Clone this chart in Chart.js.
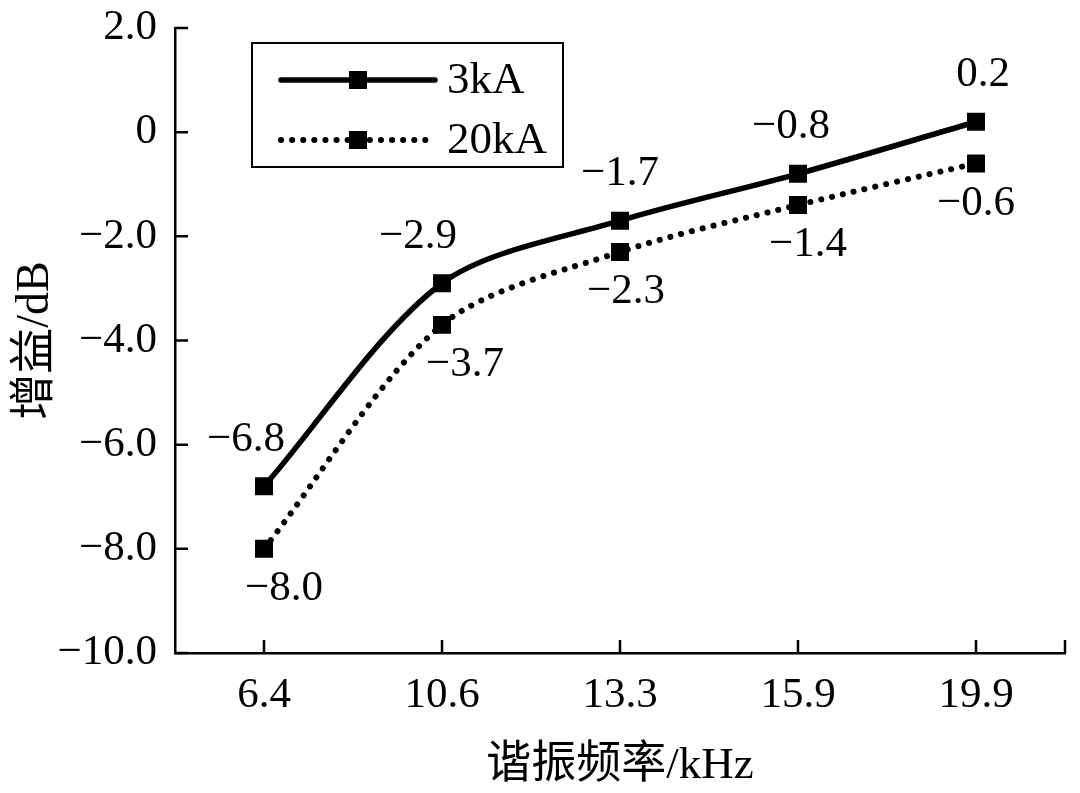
<!DOCTYPE html>
<html>
<head>
<meta charset="utf-8">
<script src="https://cdn.jsdelivr.net/npm/chart.js@4.4.1/dist/chart.umd.min.js"></script>
<style>
  html, body { margin: 0; padding: 0; background: #fff; }
  #wrap { width: 1080px; height: 793px; position: relative; }
</style>
</head>
<body>
<div id="wrap"><canvas id="chart"></canvas></div>
<script>
/* gain vs resonant frequency – two lightning current levels */
const FREQ_LABELS = ['6.4', '10.6', '13.3', '15.9', '19.9'];
const GAIN_3KA    = [-6.8, -2.9, -1.7, -0.8, 0.2];
const GAIN_20KA   = [-8.0, -3.7, -2.3, -1.4, -0.6];
const SERIES_NAMES = ['3kA', '20kA'];
const Y_MIN = -10, Y_MAX = 2, Y_STEP = 2;

const FONT = "'Liberation Serif', 'Times New Roman', 'Noto Sans CJK SC', serif";
const INK = '#000';

function fmt(v) {
  if (v === 0) return '0';
  return (v < 0 ? '\u2212' : '') + Math.abs(v).toFixed(1);
}

/* ── inward tick marks ─────────────────────────────────────────────── */
const innerTicks = {
  id: 'innerTicks',
  afterDraw(chart) {
    const { ctx, chartArea: a, scales: { x, y } } = chart;
    ctx.save();
    ctx.strokeStyle = INK;
    ctx.lineWidth = 2.5;
    ctx.beginPath();
    y.ticks.forEach((t, i) => {
      const py = y.getPixelForTick(i);
      ctx.moveTo(a.left, py); ctx.lineTo(a.left + 13, py);
    });
    FREQ_LABELS.forEach((_, i) => {
      const px = x.getPixelForTick(i);
      ctx.moveTo(px, a.bottom); ctx.lineTo(px, a.bottom - 13);
    });
    ctx.moveTo(a.right, a.bottom); ctx.lineTo(a.right, a.bottom - 13);
    ctx.stroke();
    ctx.restore();
  }
};

/* ── value labels above / below points ─────────────────────────────── */
const valueLabels = {
  id: 'valueLabels',
  afterDatasetsDraw(chart) {
    const { ctx } = chart;
    const shifts = [[-18, -24, 0, -7, 7], [20, 23, 6, 10, 0]];
    ctx.save();
    ctx.fillStyle = INK;
    ctx.font = `43px ${FONT}`;
    ctx.textAlign = 'center';
    ctx.textBaseline = 'middle';
    chart.data.datasets.forEach((ds, di) => {
      chart.getDatasetMeta(di).data.forEach((pt, i) => {
        const dy = di === 0 ? -47 : 40;
        ctx.fillText(fmt(ds.data[i]), pt.x + shifts[di][i], pt.y + dy);
      });
    });
    ctx.restore();
  }
};

/* ── boxed legend with line + marker samples ───────────────────────── */
const boxLegend = {
  id: 'boxLegend',
  afterDraw(chart) {
    const { ctx } = chart;
    ctx.save();
    ctx.strokeStyle = INK;
    ctx.lineWidth = 2;
    ctx.strokeRect(252, 43, 311, 124);
    chart.data.datasets.forEach((ds, i) => {
      const yy = 80 + i * 60;
      ctx.lineWidth = ds.borderWidth;
      ctx.lineCap = 'round';
      ctx.setLineDash(ds.borderDash || []);
      ctx.beginPath(); ctx.moveTo(281, yy); ctx.lineTo(435, yy); ctx.stroke();
      ctx.setLineDash([]);
      ctx.fillStyle = INK;
      ctx.fillRect(349, yy - 9, 18, 18);
      ctx.font = `45px ${FONT}`;
      ctx.textAlign = 'left';
      ctx.textBaseline = 'middle';
      ctx.fillText(ds.label, 447, yy + 1);
    });
    ctx.restore();
  }
};

new Chart(document.getElementById('chart'), {
  type: 'line',
  data: {
    labels: FREQ_LABELS,
    datasets: [
      {
        label: SERIES_NAMES[0],
        data: GAIN_3KA,
        borderColor: INK,
        backgroundColor: INK,
        borderWidth: 5.5,
        tension: 0.3,
        pointStyle: 'rect',
        pointRadius: 12.7,
        pointBorderWidth: 0,
      },
      {
        label: SERIES_NAMES[1],
        data: GAIN_20KA,
        borderColor: INK,
        backgroundColor: INK,
        borderWidth: 6,
        borderDash: [0.1, 11],
        borderCapStyle: 'round',
        tension: 0.3,
        pointStyle: 'rect',
        pointRadius: 12.7,
        pointBorderWidth: 0,
      }
    ]
  },
  options: {
    responsive: true,
    maintainAspectRatio: false,
    animation: false,
    layout: { padding: { top: 28, right: 15, left: 8, bottom: 0 } },
    plugins: {
      legend: { display: false },
      tooltip: { enabled: false }
    },
    scales: {
      x: {
        offset: true,
        grid: { display: false, drawTicks: false },
        border: { display: true, color: INK, width: 2.5 },
        ticks: { color: INK, padding: 17, font: { family: FONT, size: 43 }, maxRotation: 0 },
        title: { display: true, text: '谐振频率/kHz', color: INK, font: { family: FONT, size: 45 }, padding: { top: 10, bottom: 0 } },
        afterFit: s => { s.height = 140; s.paddingLeft = 0; s.paddingRight = 0; }
      },
      y: {
        min: Y_MIN,
        max: Y_MAX,
        grid: { display: false, drawTicks: false },
        border: { display: true, color: INK, width: 2.5 },
        ticks: { stepSize: Y_STEP, color: INK, padding: 18, font: { family: FONT, size: 43 }, callback: v => fmt(v) },
        title: { display: true, text: '增益/dB', color: INK, font: { family: FONT, size: 46 }, padding: { top: 0, bottom: 2 } },
        afterFit: s => { s.width = 167; s.paddingTop = 0; s.paddingBottom = 0; }
      }
    }
  },
  plugins: [innerTicks, valueLabels, boxLegend]
});
</script>
</body>
</html>
